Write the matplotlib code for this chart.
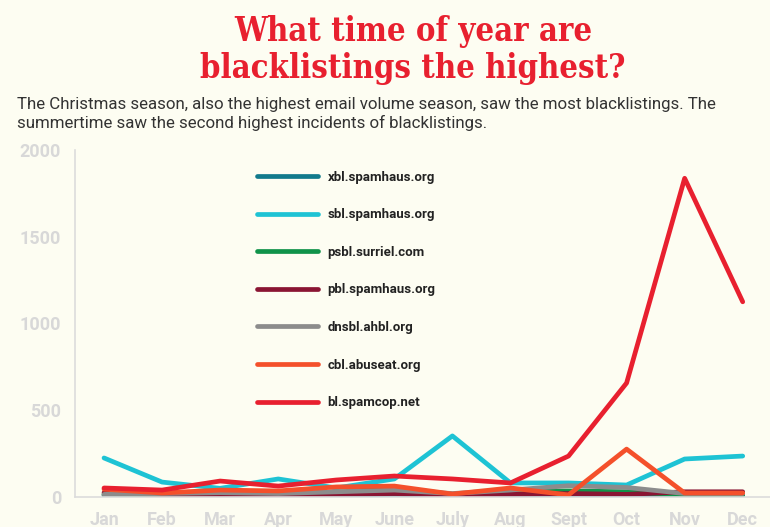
import matplotlib
matplotlib.use("Agg")
from matplotlib import pyplot as plt

# chart data
months = ["Jan", "Feb", "Mar", "Apr", "May", "June", "July", "Aug", "Sept", "Oct", "Nov", "Dec"]
series_names = ["xbl.spamhaus.org", "sbl.spamhaus.org", "psbl.surriel.com", "pbl.spamhaus.org",
                "dnsbl.ahbl.org", "cbl.abuseat.org", "bl.spamcop.net"]
xbl = [10, 8, 10, 8, 12, 15, 10, 12, 15, 12, 8, 10]
sbl = [225, 86, 50, 104, 52, 104, 352, 81, 81, 69, 219, 236]
psbl = [15, 12, 15, 12, 25, 55, 15, 30, 35, 30, 10, 12]
pbl = [25, 15, 12, 10, 15, 20, 10, 15, 20, 15, 30, 30]
dnsbl = [15, 20, 25, 20, 30, 40, 20, 40, 65, 55, 20, 20]
cbl = [45, 23, 40, 35, 58, 63, 17, 52, 12, 276, 23, 23]
spamcop = [52, 40, 92, 63, 98, 121, 104, 81, 236, 657, 1837, 1125]
y_ticks = [0, 500, 1000, 1500, 2000]

series = [xbl, sbl, psbl, pbl, dnsbl, cbl, spamcop]
colors = ["#127a8c", "#1ec3d4", "#10934a", "#8a1533", "#8c8c8c", "#f4502b", "#e8202f"]

bg = "#fdfdf2"
fig = plt.figure(figsize=(7.7, 5.27), dpi=100, facecolor=bg)
ax = fig.add_axes([75 / 770, 30 / 527, 695 / 770, 347 / 527], facecolor=bg)

x = list(range(len(months)))
for vals, name, col in zip(series, series_names, colors):
    ax.plot(x, vals, color=col, lw=3.4, label=name, solid_capstyle="round", solid_joinstyle="round")

ax.set_xlim(-0.5, 11.47)
ax.set_ylim(0, 2000)
ax.set_yticks(y_ticks)
ax.set_yticklabels([str(v) for v in y_ticks])
ax.set_xticks(x)
ax.set_xticklabels(months)
for s in ["top", "right"]:
    ax.spines[s].set_visible(False)
for s in ["left", "bottom"]:
    ax.spines[s].set_color("#dcdcdc")
    ax.spines[s].set_linewidth(1.2)
ax.tick_params(length=0, colors="#d6d6d6", labelsize=13, pad=10)
for lab in ax.get_xticklabels() + ax.get_yticklabels():
    lab.set_fontfamily("Roboto")
    lab.set_fontweight("bold")
    lab.set_color("#d8d8d8")

leg = ax.legend(loc="upper left", bbox_to_anchor=(170 / 695, 1 - 9 / 347), frameon=False,
                handlelength=4.6, handletextpad=0.75, labelspacing=1.86,
                prop={"family": "Roboto", "weight": "bold", "size": 9.5})
for t in leg.get_texts():
    t.set_color("#222222")

fig.text(413 / 770, 1 - 50 / 527, "What time of year are\nblacklistings the highest?", ha="center", va="center",
         fontsize=23.5, fontweight="bold", family="DejaVu Serif", fontstretch="condensed",
         color="#e8202f", linespacing=1.15)
fig.text(17 / 770, 1 - 114 / 527,
         "The Christmas season, also the highest email volume season, saw the most blacklistings. The\n"
         "summertime saw the second highest incidents of blacklistings.",
         ha="left", va="center", fontsize=12.2, family="Roboto", color="#333333", linespacing=1.25)

fig.savefig("out.png", dpi=100, facecolor=bg)
